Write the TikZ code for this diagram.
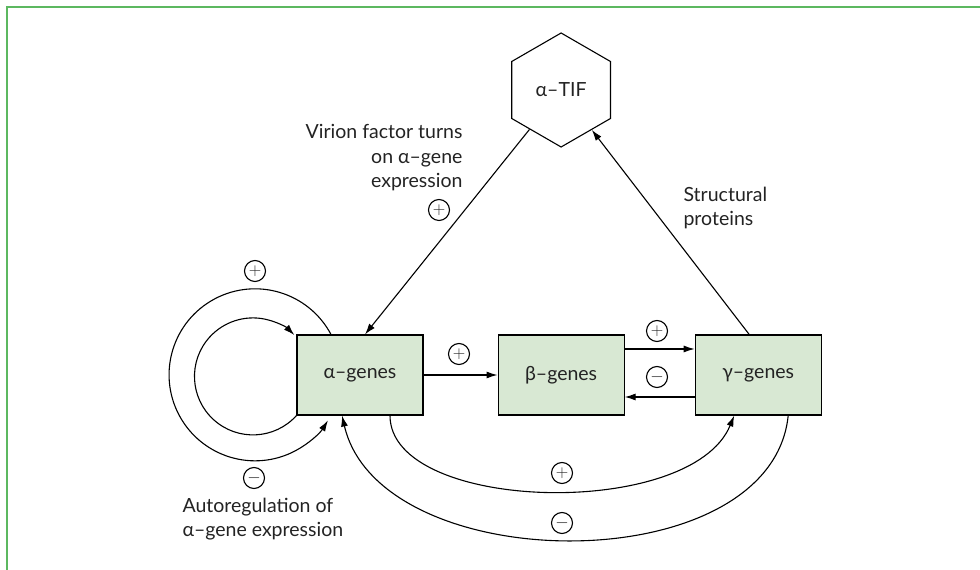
\documentclass[tikz,border=0pt]{standalone}
\usepackage{fontspec}
\setmainfont{Lato}
\usetikzlibrary{shapes.geometric, arrows.meta, positioning}
\definecolor{framegreen}{RGB}{92,184,96}
\definecolor{boxgreen}{RGB}{216,232,211}
\definecolor{inkgray}{RGB}{35,35,35}

\begin{document}
\begin{tikzpicture}[x=1pt, y=1pt, line width=1.1pt,
    every node/.style={font=\fontsize{19.5}{24.5}\selectfont, text=inkgray},
    genebox/.style={draw=black, fill=boxgreen, minimum width=126pt, minimum height=80pt, inner sep=0pt},
    sign/.style={draw=black, circle, minimum size=21pt, inner sep=0pt, font=\fontsize{16}{16}\selectfont},
    note/.style={inner sep=0pt},
    arr/.style={-{Latex[length=11pt, width=7pt]}}]
  \useasboundingbox (0,0) rectangle (980,570);
  \draw[framegreen, line width=2pt] (7,0) -- (7,563) -- (980,563);

  % genes
  \node[genebox] (alpha) at (360,195) {α–genes};
  \node[genebox, right=74pt of alpha] (beta) {β–genes};
  \node[genebox, right=70pt of beta] (gamma) {γ–genes};
  \node[draw=black, regular polygon, regular polygon sides=6, shape border rotate=30,
        minimum size=114pt, inner sep=0pt] (tif) at ([yshift=285pt]beta.center) {α–TIF};

  % straight links
  \draw[arr] (tif) -- ([xshift=5pt]alpha.north);
  \draw[arr] ([xshift=-9pt]gamma.north) -- (tif);
  \draw[arr] (alpha) -- (beta);
  \draw[arr] ([yshift=26pt]beta.east) -- ([yshift=26pt]beta.east -| gamma.west);
  \draw[arr] ([yshift=-22pt]gamma.west) -- ([yshift=-22pt]gamma.west -| beta.east);

  % autoregulation loops
  \draw[arr] (alpha.south west) arc[start angle=-42, end angle=-315, radius=58.5pt];
  \draw[arr] ([xshift=-29pt]alpha.north) arc[start angle=28, end angle=328, radius=86pt];

  % feedback under the boxes
  \draw[arr] ([xshift=30pt]alpha.south) .. controls +(0,-97) and +(-43,-105) .. ([xshift=-24pt]gamma.south);
  \draw[arr] ([xshift=30pt]gamma.south) .. controls +(-17,-167) and +(38,-164) .. ([xshift=-18pt]alpha.south);

  % signs
  \node[sign] (pab) at (459,216) {$+$};
  \node[sign] (pbg) at (657,239) {$+$};
  \node[sign] (mgb) at (657,193) {$-$};
  \node[sign] (pag) at (562,97) {$+$};
  \node[sign] (mga) at (562,47) {$-$};
  \node[sign] (ptif) at (439,360) {$+$};
  \node[sign] (pself) at (255,299) {$+$};
  \node[sign] (mself) at (254,92) {$-$};

  % labels
  \node[note, align=right, anchor=east] (virion) at (463,412) {Virion factor turns\\on α–gene\\expression};
  \node[note, align=left, anchor=west] (struct) at (683,362) {Structural\\proteins};
  \node[note, align=left, anchor=west] (autoreg) at (182,51) {Autoregulation of\\α–gene expression};
\end{tikzpicture}
\end{document}
